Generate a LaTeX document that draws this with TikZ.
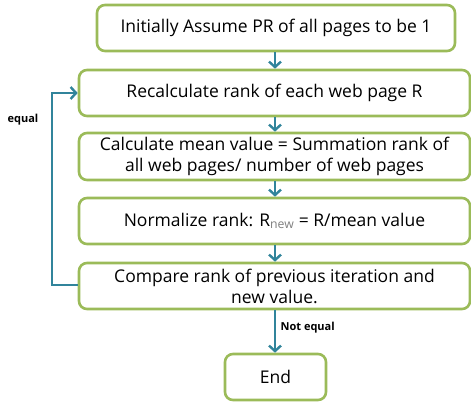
\documentclass[tikz,border=0pt]{standalone}
\usepackage{fontspec}
\setmainfont{Open Sans}
\usetikzlibrary{arrows.meta}

\definecolor{boxgreen}{RGB}{155,187,89}
\definecolor{flowteal}{RGB}{49,132,155}

\tikzset{
  stepbox/.style={draw=boxgreen, line width=2.6pt, rounded corners=8pt, fill=white,
    align=center, font=\fontsize{17.5}{21}\selectfont, inner sep=1pt},
  flow/.style={draw=flowteal, line width=2.6pt, -{Straight Barb[length=5.5pt,width=12pt,line width=2.4pt]}},
  edgelabel/.style={font=\fontsize{11}{13}\selectfont\bfseries}
}

\begin{document}
\begin{tikzpicture}[x=1pt,y=-1pt]
  \useasboundingbox (0,0) rectangle (471,410);

  \node[stepbox, minimum width=358pt, minimum height=46pt] (init) at (276,28)
    {Initially Assume PR of all pages to be 1};
  \node[stepbox, minimum width=391pt, minimum height=46pt] (recalc) at (274.5,93)
    {Recalculate rank of each web page R};
  \node[stepbox, minimum width=391pt, minimum height=47pt] (mean) at (274.5,156.5)
    {Calculate mean value = Summation rank of\\all web pages/ number of web pages};
  \node[stepbox, minimum width=391pt, minimum height=46pt] (norm) at (274.5,221)
    {Normalize rank: R\textsubscript{\textcolor{gray}{new}} = R/mean value};
  \node[stepbox, minimum width=391pt, minimum height=46pt] (comp) at (274.5,286)
    {Compare rank of previous iteration and\\new value.};
  \node[stepbox, minimum width=101pt, minimum height=46pt] (end) at (275.5,377)
    {End};

  \coordinate (loopbot) at (52,285);
  \coordinate (looptop) at (52,93);

  \draw[flow] (init.south -| 275,0) -- (recalc.north -| 275,0);
  \draw[flow] (recalc.south -| 275,0) -- (mean.north -| 275,0);
  \draw[flow] (mean.south -| 275,0) -- (norm.north -| 275,0);
  \draw[flow] (norm.south -| 275,0) -- (comp.north -| 275,0);
  \draw[flow] (comp.south -| 275,0) -- node[edgelabel, right, pos=0.4, xshift=1pt] (neq) {Not equal} (end.north -| 275,0);
  \draw[flow] (comp.west |- loopbot) -- (loopbot) -- (looptop) -- (recalc.west);

  \node[edgelabel] (eq) at (23,120) {equal};
\end{tikzpicture}
\end{document}
